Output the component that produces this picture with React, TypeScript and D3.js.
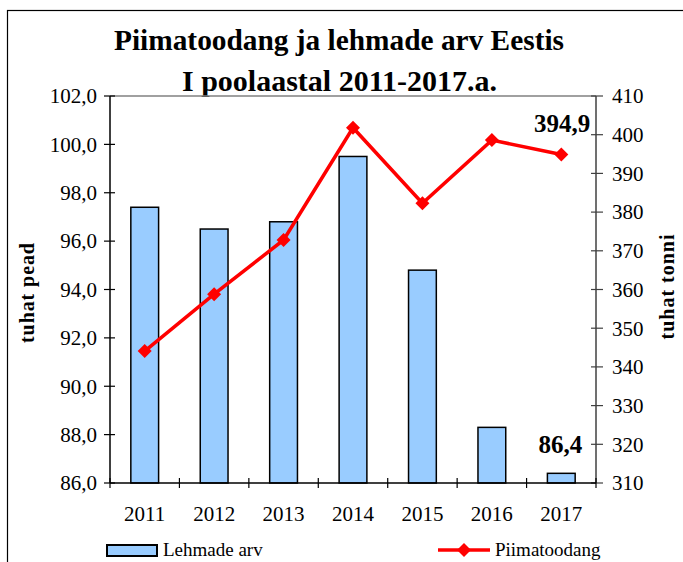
import React from "react";
import * as d3 from "d3";

const years = ["2011", "2012", "2013", "2014", "2015", "2016", "2017"];
const cows = [97.4, 96.5, 96.8, 99.5, 94.8, 88.3, 86.4];
const milk = [344.1, 358.8, 372.8, 401.8, 382.3, 398.6, 394.9];
const leftTicks = [86, 88, 90, 92, 94, 96, 98, 100, 102];
const rightTicks = [310, 320, 330, 340, 350, 360, 370, 380, 390, 400, 410];
const titleLines = ["Piimatoodang ja lehmade arv Eestis", "I poolaastal 2011-2017.a."];
const leftLabel = "tuhat pead";
const rightLabel = "tuhat tonni";
const seriesNames = ["Lehmade arv", "Piimatoodang"];

const W = 683;
const H = 562;
const L = 110, R = 596, T = 96, B = 483;
const FONT = '"Liberation Serif", "Times New Roman", serif';

export default function App() {
  const x = d3.scaleBand<string>().domain(years).range([L, R]).padding(0);
  const yL = d3.scaleLinear().domain([86, 102]).range([B, T]);
  const yR = d3.scaleLinear().domain([310, 410]).range([B, T]);
  const bw = x.bandwidth() * 0.4;
  const cx = (y: string) => (x(y) as number) + x.bandwidth() / 2;
  const line = d3
    .line<number>()
    .x((_, i) => cx(years[i]))
    .y((d) => yR(d));
  const diamond = (px: number, py: number, r: number) =>
    `M${px},${py - r}L${px + r},${py}L${px},${py + r}L${px - r},${py}Z`;
  const fmt1 = (v: number) => v.toFixed(1).replace(".", ",");
  const last = years.length - 1;

  return (
    <svg width={W} height={H} style={{ position: "absolute", left: 0, top: 0, background: "#fff", fontFamily: FONT }}>
      <rect x={7.5} y={10.5} width={700} height={600} fill="#fff" stroke="#000" strokeWidth={1.2} />
      {/* title */}
      <text x={339} y={50} textAnchor="middle" fontSize={30} fontWeight="bold" textLength={450} lengthAdjust="spacingAndGlyphs">
        {titleLines[0]}
      </text>
      <text x={339.5} y={91} textAnchor="middle" fontSize={30} fontWeight="bold" textLength={315} lengthAdjust="spacingAndGlyphs">
        {titleLines[1]}
      </text>
      {/* plot top border */}
      <line x1={L} x2={R} y1={T} y2={T} stroke="#808080" strokeWidth={1.5} />
      {/* bars */}
      {years.map((yr, i) => (
        <rect
          key={yr}
          x={cx(yr) - bw / 2}
          y={yL(cows[i])}
          width={bw}
          height={B - yL(cows[i])}
          fill="#99CCFF"
          stroke="#000"
          strokeWidth={1.5}
        />
      ))}
      {/* left axis */}
      <line x1={L} x2={L} y1={T} y2={B} stroke="#000" strokeWidth={1.5} />
      {leftTicks.map((t) => (
        <g key={t}>
          <line x1={L - 6} x2={L + 5} y1={yL(t)} y2={yL(t)} stroke="#000" strokeWidth={1.2} />
          <text x={97} y={yL(t)} dy="0.35em" textAnchor="end" fontSize={21}>
            {fmt1(t)}
          </text>
        </g>
      ))}
      {/* right axis */}
      <line x1={R} x2={R} y1={T} y2={B} stroke="#404040" strokeWidth={1.5} />
      {rightTicks.map((t) => (
        <g key={t}>
          <line x1={R - 5} x2={R + 7} y1={yR(t)} y2={yR(t)} stroke="#404040" strokeWidth={1.2} />
          <text x={612} y={yR(t)} dy="0.35em" textAnchor="start" fontSize={21}>
            {t}
          </text>
        </g>
      ))}
      {/* bottom axis */}
      <line x1={L} x2={R} y1={B} y2={B} stroke="#000" strokeWidth={1.5} />
      {years.map((yr) => (
        <line key={"t" + yr} x1={x(yr) as number} x2={x(yr) as number} y1={B - 5} y2={B + 5} stroke="#000" strokeWidth={1.2} />
      ))}
      <line x1={R} x2={R} y1={B - 5} y2={B + 5} stroke="#000" strokeWidth={1.2} />
      {years.map((yr) => (
        <text key={"l" + yr} x={cx(yr)} y={521} textAnchor="middle" fontSize={21}>
          {yr}
        </text>
      ))}
      {/* axis titles */}
      <text transform={`translate(34,293) rotate(-90)`} textAnchor="middle" fontSize={20} fontWeight="bold" textLength={100} lengthAdjust="spacing">
        {leftLabel}
      </text>
      <text transform={`translate(674,287) rotate(-90)`} textAnchor="middle" fontSize={20} fontWeight="bold" textLength={105} lengthAdjust="spacing">
        {rightLabel}
      </text>
      {/* line */}
      <path d={line(milk) || ""} fill="none" stroke="#FF0000" strokeWidth={3.5} strokeLinejoin="miter" />
      {milk.map((v, i) => (
        <path key={"m" + i} d={diamond(cx(years[i]), yR(v), 7)} fill="#FF0000" />
      ))}
      {/* data labels */}
      <text x={cx(years[last]) + 29} y={132} textAnchor="end" fontSize={25} fontWeight="bold">
        {fmt1(milk[last])}
      </text>
      <text x={cx(years[last]) - 1} y={453} textAnchor="middle" fontSize={25} fontWeight="bold">
        {fmt1(cows[last])}
      </text>
      {/* legend */}
      <rect x={107} y={545} width={50} height={11} fill="#99CCFF" stroke="#000" strokeWidth={2} />
      <text x={163} y={556} fontSize={19}>
        {seriesNames[0]}
      </text>
      <line x1={438} x2={490} y1={550} y2={550} stroke="#FF0000" strokeWidth={3.5} />
      <path d={diamond(464, 550, 7)} fill="#FF0000" />
      <text x={495} y={556} fontSize={19}>
        {seriesNames[1]}
      </text>
    </svg>
  );
}
